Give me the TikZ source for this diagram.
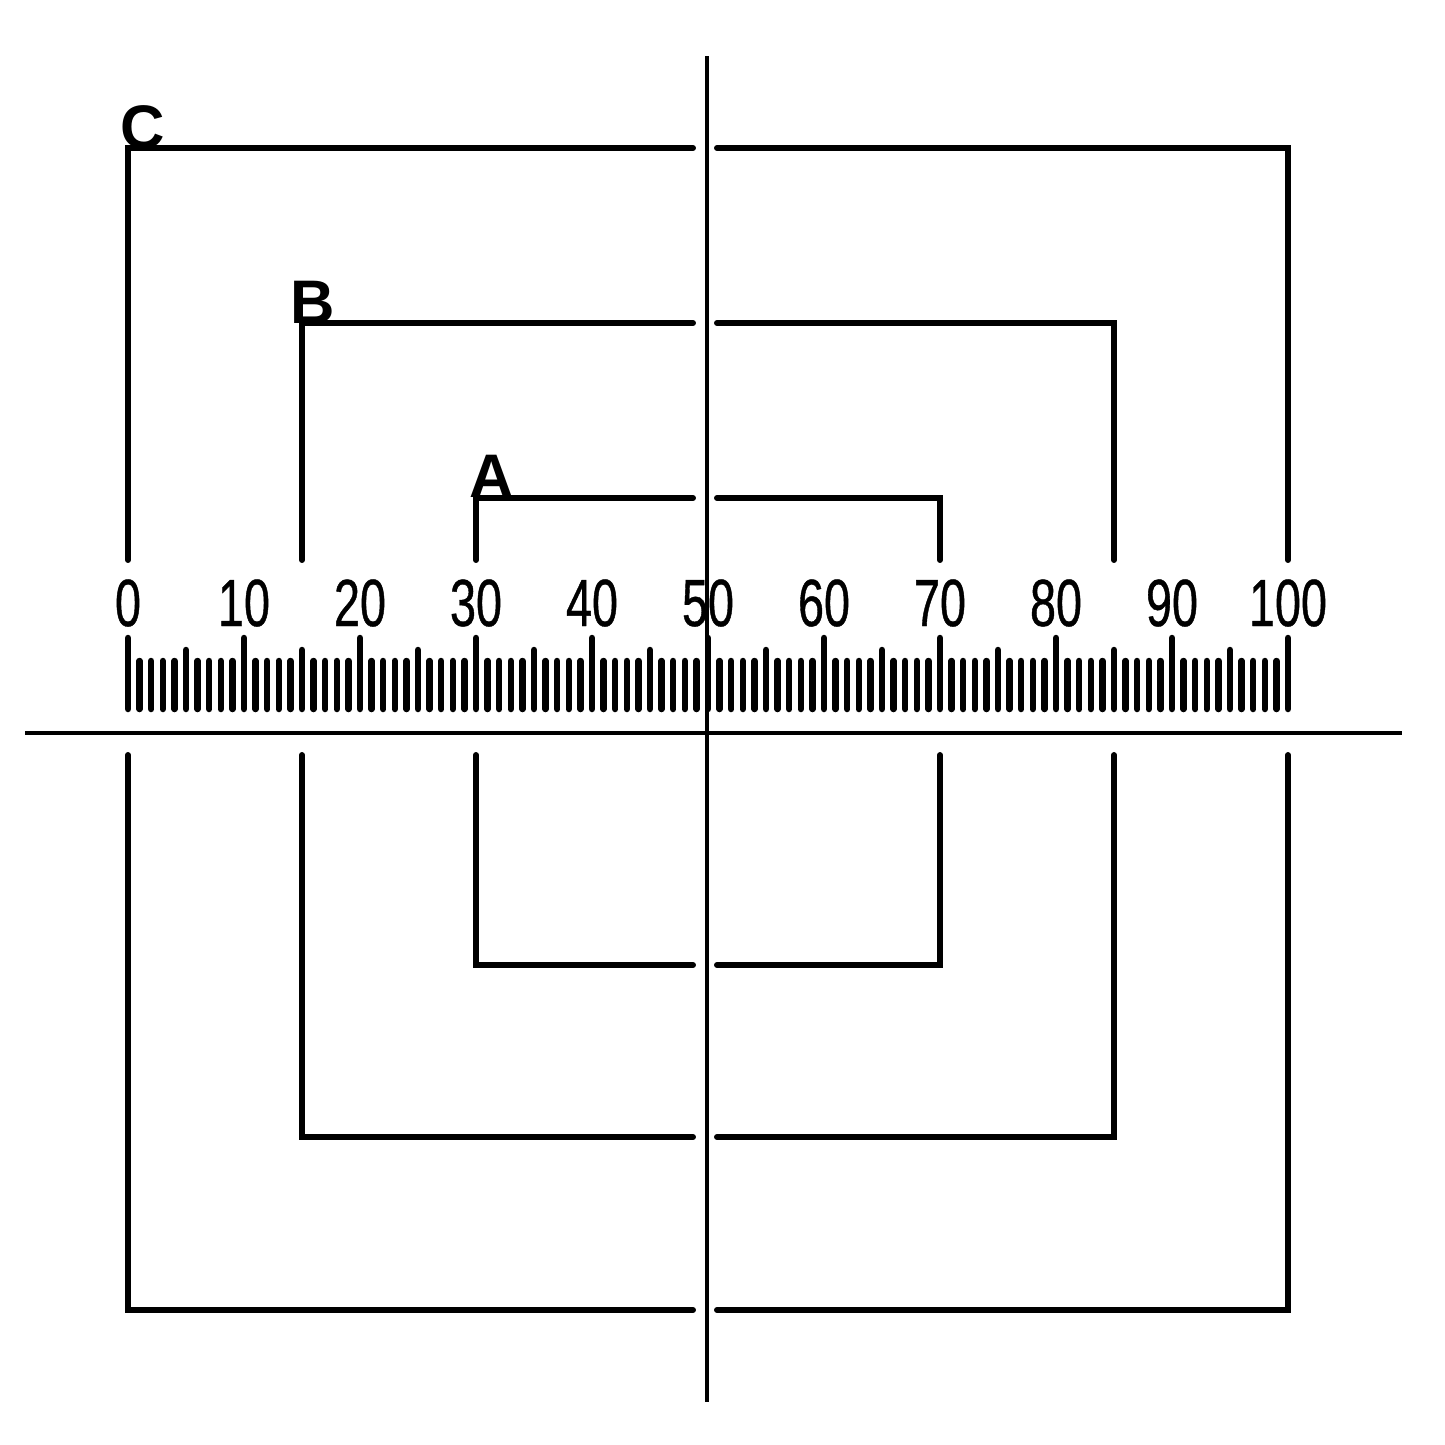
\documentclass[tikz,border=0pt]{standalone}
\usepackage{fontspec}
\usepackage{tikz}
\newfontfamily\policechiffres[FakeStretch=0.7,FakeBold=0.6]{Liberation Sans}
\newfontfamily\policelettres{Liberation Sans}

\begin{document}
\begin{tikzpicture}[x=0.02cm,y=-0.02cm]
    % Styles (MODIFIABLES)
    \tikzstyle{trait}=[line width=3.4pt,line cap=round,line join=miter]
    \tikzstyle{axe}=[line width=2.8pt]
    \tikzstyle{graduation}=[line width=3.7pt,line cap=round]
    \tikzstyle{chiffre}=[anchor=south,inner sep=0pt,font=\policechiffres\fontsize{38}{40}\selectfont]
    \tikzstyle{lettre}=[anchor=south,inner sep=0pt,font=\policelettres\bfseries\fontsize{35}{36}\selectfont]
    % Dimensions (MODIFIABLES)
    \def\Origine{128}
    \def\Pas{11.6}
    \def\HautGrad{709}
    \def\FinHaut{560}
    \def\DebutBas{755}
    \def\TrouG{693}
    \def\TrouD{717}
    % Cadre
    \fill[white] (0,0) rectangle (1445,1445);
    % Axes
    \draw[axe] (25,733) -- (1402,733);
    \draw[axe] (707,56) -- (707,1402);
    % Graduations
    \foreach \i in {0,...,100}{
        \pgfmathtruncatemacro{\dix}{mod(\i,10)}
        \pgfmathtruncatemacro{\cinq}{mod(\i,5)}
        \ifnum\dix=0 \def\h{638}\else\ifnum\cinq=0 \def\h{650}\else\def\h{661}\fi\fi
        \draw[graduation] ({\Origine+\i*\Pas},\HautGrad) -- ({\Origine+\i*\Pas},\h);
    }
    % Chiffres
    \foreach \v in {0,10,...,100}
        \node[chiffre] (n\v) at ({\Origine+\v*\Pas},627) {\v};
    % Cadres A, B, C (gauche, droite, haut, bas)
    \foreach \nom/\g/\d/\yh/\yb in {C/0/100/148/1310, B/15/85/323/1137, A/30/70/498/965}{
        \draw[trait] ({\Origine+\g*\Pas},\FinHaut) -- ({\Origine+\g*\Pas},\yh) -- (\TrouG,\yh);
        \draw[trait] (\TrouD,\yh) -- ({\Origine+\d*\Pas},\yh) -- ({\Origine+\d*\Pas},\FinHaut);
        \draw[trait] ({\Origine+\g*\Pas},\DebutBas) -- ({\Origine+\g*\Pas},\yb) -- (\TrouG,\yb);
        \draw[trait] (\TrouD,\yb) -- ({\Origine+\d*\Pas},\yb) -- ({\Origine+\d*\Pas},\DebutBas);
    }
    % Lettres
    \node[lettre] (lettreC) at (143,149) {C};
    \node[lettre] (lettreB) at (313,324) {B};
    \node[lettre] (lettreA) at (492,498) {A};
\end{tikzpicture}
\end{document}
